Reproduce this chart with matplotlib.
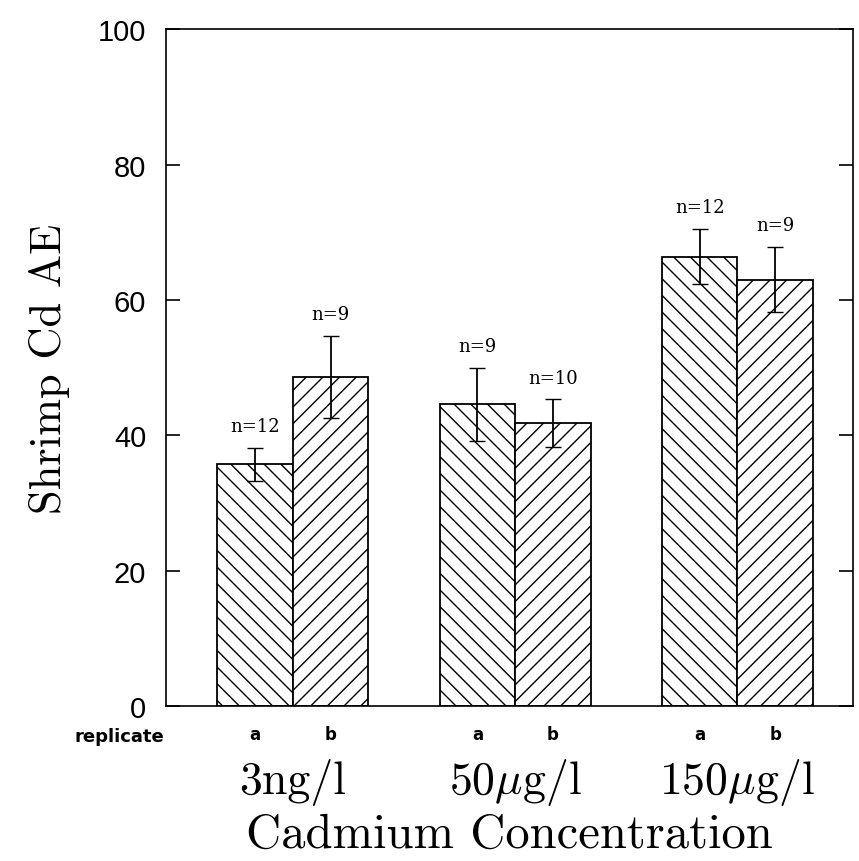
"""Shrimp Cd assimilation efficiency by cadmium concentration and replicate."""

import matplotlib
matplotlib.use("Agg")
import matplotlib.pyplot as plt
import numpy as np

concentrations = ["3ng/l", r"50$\mu$g/l", r"150$\mu$g/l"]
replicates = ["a", "b"]
ae_a = [35.7, 44.6, 66.4]
ae_b = [48.6, 41.8, 63.0]
err_a = [2.4, 5.4, 4.1]
err_b = [6.1, 3.5, 4.8]
n_a = [12, 9, 12]
n_b = [9, 10, 9]

plt.rcParams["mathtext.fontset"] = "cm"
plt.rcParams["hatch.linewidth"] = 1.0

fig = plt.figure(figsize=(8.59, 8.62), dpi=100)
ax = fig.add_axes([0.193, 0.18, 0.8, 0.785])

x = np.arange(len(concentrations))
w = 0.34
pos_a = x - w / 2
pos_b = x + w / 2

ax.bar(pos_a, ae_a, w, color="white", edgecolor="black", hatch="\\\\", lw=1.3)
ax.bar(pos_b, ae_b, w, color="white", edgecolor="black", hatch="//", lw=1.3)
ax.errorbar(pos_a, ae_a, yerr=err_a, fmt="none", ecolor="black", capsize=5.5, lw=1.3)
ax.errorbar(pos_b, ae_b, yerr=err_b, fmt="none", ecolor="black", capsize=5.5, lw=1.3)

for px, v, e, n in zip(np.r_[pos_a, pos_b], ae_a + ae_b, err_a + err_b, n_a + n_b):
    ax.text(px, v + e + 3.2, f"n={n}", ha="center", va="center",
            fontsize=13, family="DejaVu Serif")

ax.set_xlim(-0.572, 2.52)
ax.set_ylim(0, 100)
ax.set_yticks([0, 20, 40, 60, 80, 100])
ax.set_yticklabels([0, 20, 40, 60, 80, 100], family="Liberation Sans", fontsize=21)
ax.tick_params(axis="y", direction="in", length=10, width=1.2, pad=14, right=True)
ax.set_xticks(np.r_[pos_a, pos_b])
ax.set_xticklabels([replicates[0]] * 3 + [replicates[1]] * 3, fontsize=12,
                   fontweight="bold")
ax.tick_params(axis="x", length=0, pad=14)
for s in ax.spines.values():
    s.set_linewidth(1.2)

ax.text(-0.577, -0.045, "replicate", transform=ax.get_xaxis_transform(),
        ha="right", va="center", fontsize=13, fontweight="bold")
for xi, lab in zip(x, concentrations):
    ax.text(xi, -0.112, lab, transform=ax.get_xaxis_transform(), ha="center",
            va="center", fontsize=33, family="cmr10")

ax.set_xlabel("Cadmium Concentration", fontsize=35, family="cmr10", labelpad=50)
ax.set_ylabel("Shrimp Cd AE", fontsize=32, family="cmr10", labelpad=20)

fig.savefig("out.png", dpi=100)
